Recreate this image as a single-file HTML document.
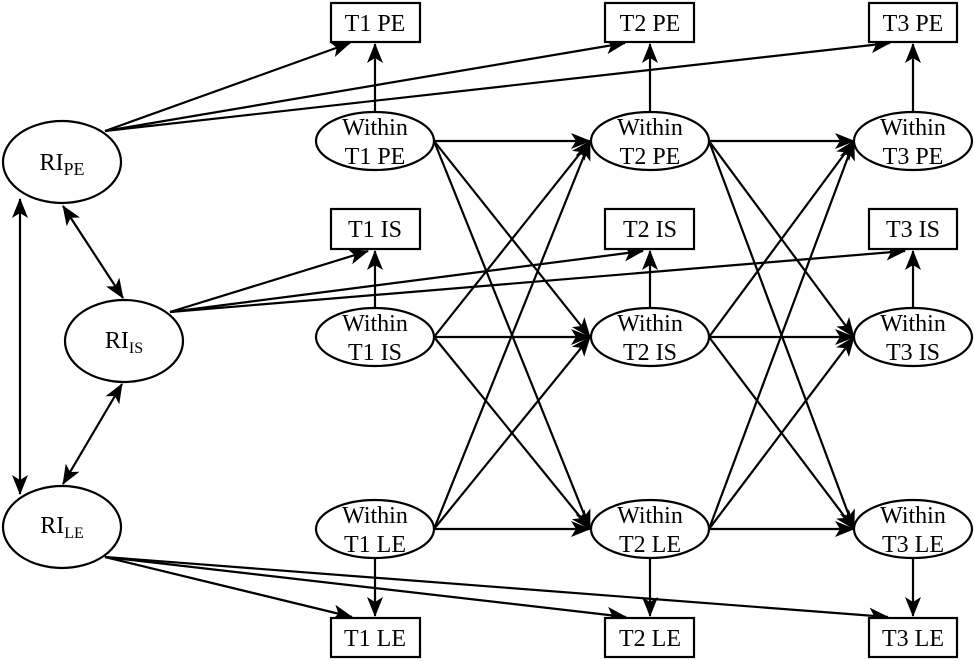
<!DOCTYPE html>
<html><head><meta charset="utf-8"><style>
html,body{margin:0;padding:0;background:#fff;}
svg{display:block;}
text{font-family:"Liberation Serif",serif;font-size:24px;fill:#000;}
</style></head><body>
<svg width="975" height="661" viewBox="0 0 975 661" xmlns="http://www.w3.org/2000/svg">
<defs>
<marker id="a" viewBox="0 0 20 16" refX="19" refY="8" markerWidth="20" markerHeight="16" markerUnits="userSpaceOnUse" orient="auto-start-reverse">
<path d="M0,0 L20,8 L0,16 L5,8 z" fill="#000"/>
</marker>
</defs>
<g stroke="#000" stroke-width="2.2" fill="none" marker-end="url(#a)">
<line x1="105" y1="131" x2="350" y2="43"/>
<line x1="105" y1="131" x2="625" y2="43"/>
<line x1="105" y1="131" x2="890" y2="43"/>
<line x1="170" y1="312" x2="368" y2="251"/>
<line x1="170" y1="312" x2="643" y2="251"/>
<line x1="170" y1="312" x2="905" y2="251"/>
<line x1="105" y1="557" x2="352" y2="617"/>
<line x1="105" y1="557" x2="626" y2="617"/>
<line x1="105" y1="557" x2="888" y2="617"/>
<line x1="63" y1="206" x2="123" y2="298" marker-start="url(#a)"/>
<line x1="122" y1="384" x2="63" y2="484" marker-start="url(#a)"/>
<line x1="20" y1="199" x2="20" y2="494" marker-start="url(#a)"/>
<line x1="375" y1="112" x2="375" y2="44"/>
<line x1="650" y1="112" x2="650" y2="44"/>
<line x1="913" y1="112" x2="913" y2="44"/>
<line x1="375" y1="308" x2="375" y2="251"/>
<line x1="650" y1="308" x2="650" y2="251"/>
<line x1="913" y1="308" x2="913" y2="251"/>
<line x1="375" y1="558" x2="375" y2="616"/>
<line x1="650" y1="558" x2="650" y2="616"/>
<line x1="913" y1="558" x2="913" y2="616"/>
<line x1="434" y1="141" x2="590" y2="141"/>
<line x1="434" y1="141" x2="590" y2="337"/>
<line x1="434" y1="141" x2="590" y2="529"/>
<line x1="434" y1="337" x2="590" y2="141"/>
<line x1="434" y1="337" x2="590" y2="337"/>
<line x1="434" y1="337" x2="590" y2="529"/>
<line x1="434" y1="529" x2="590" y2="141"/>
<line x1="434" y1="529" x2="590" y2="337"/>
<line x1="434" y1="529" x2="590" y2="529"/>
<line x1="709" y1="141" x2="854" y2="141"/>
<line x1="709" y1="141" x2="854" y2="337"/>
<line x1="709" y1="141" x2="854" y2="529"/>
<line x1="709" y1="337" x2="854" y2="141"/>
<line x1="709" y1="337" x2="854" y2="337"/>
<line x1="709" y1="337" x2="854" y2="529"/>
<line x1="709" y1="529" x2="854" y2="141"/>
<line x1="709" y1="529" x2="854" y2="337"/>
<line x1="709" y1="529" x2="854" y2="529"/>
</g>
<g stroke="#000" stroke-width="2.2" fill="#fff">
<rect x="331" y="3" width="89" height="39"/>
<rect x="605" y="3" width="89" height="39"/>
<rect x="869" y="3" width="88" height="39"/>
<rect x="331" y="209" width="89" height="40"/>
<rect x="605" y="209" width="89" height="40"/>
<rect x="869" y="209" width="88" height="40"/>
<rect x="331" y="618" width="89" height="39"/>
<rect x="605" y="618" width="89" height="39"/>
<rect x="869" y="618" width="88" height="39"/>
<ellipse cx="62" cy="162" rx="59" ry="41"/>
<ellipse cx="124" cy="341" rx="59" ry="41"/>
<ellipse cx="62" cy="527" rx="59" ry="41"/>
<ellipse cx="375" cy="141" rx="59" ry="29"/>
<ellipse cx="650" cy="141" rx="59" ry="29"/>
<ellipse cx="913" cy="141" rx="59" ry="29"/>
<ellipse cx="375" cy="337" rx="59" ry="29"/>
<ellipse cx="650" cy="337" rx="59" ry="29"/>
<ellipse cx="913" cy="337" rx="59" ry="29"/>
<ellipse cx="375" cy="529" rx="59" ry="29"/>
<ellipse cx="650" cy="529" rx="59" ry="29"/>
<ellipse cx="913" cy="529" rx="59" ry="29"/>
</g>
<g text-anchor="middle">
<text x="375" y="31">T1 PE</text>
<text x="650" y="31">T2 PE</text>
<text x="913" y="31">T3 PE</text>
<text x="375" y="237">T1 IS</text>
<text x="650" y="237">T2 IS</text>
<text x="913" y="237">T3 IS</text>
<text x="375" y="646">T1 LE</text>
<text x="650" y="646">T2 LE</text>
<text x="913" y="646">T3 LE</text>
<text x="375" y="135">Within</text><text x="375" y="164">T1 PE</text>
<text x="650" y="135">Within</text><text x="650" y="164">T2 PE</text>
<text x="913" y="135">Within</text><text x="913" y="164">T3 PE</text>
<text x="375" y="331">Within</text><text x="375" y="360">T1 IS</text>
<text x="650" y="331">Within</text><text x="650" y="360">T2 IS</text>
<text x="913" y="331">Within</text><text x="913" y="360">T3 IS</text>
<text x="375" y="523">Within</text><text x="375" y="552">T1 LE</text>
<text x="650" y="523">Within</text><text x="650" y="552">T2 LE</text>
<text x="913" y="523">Within</text><text x="913" y="552">T3 LE</text>
<text x="62" y="170">RI<tspan font-size="18" dy="5">PE</tspan></text>
<text x="124" y="348">RI<tspan font-size="16" dy="5">IS</tspan></text>
<text x="62" y="533">RI<tspan font-size="16" dy="5">LE</tspan></text>
</g>
</svg>
</body></html>
